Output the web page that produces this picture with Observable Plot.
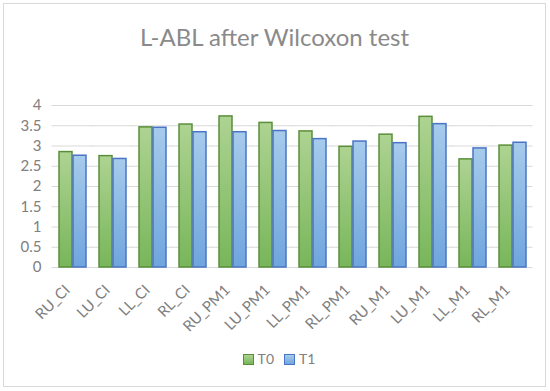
<!DOCTYPE html>
<html>
<head>
<meta charset="utf-8">
<script src="https://cdn.jsdelivr.net/npm/d3@7"></script>
<script src="https://cdn.jsdelivr.net/npm/@observablehq/plot@0.6"></script>
<style>
  html, body { margin: 0; padding: 0; background: #fff; }
  #wrap { position: relative; width: 550px; height: 391px; font-family: Lato, "Open Sans", sans-serif; }
  #frame { position: absolute; left: 3px; top: 3px; width: 543px; height: 384px; border: 1.5px solid #d9d9d9; box-sizing: border-box; }
  #title { position: absolute; left: 3px; width: 543px; top: 25px; text-align: center; font-size: 24px; line-height: 1; color: #8a8a8a; }
  #chart { position: absolute; left: 0; top: 0; }
  #legend { position: absolute; left: 4px; width: 550px; top: 352px; display: flex; justify-content: center; gap: 10px; font-size: 14px; color: #808080; line-height: 14px; }
  #legend .item { display: flex; align-items: center; gap: 4px; }
  #legend .sw { width: 9px; height: 9px; border: 1.5px solid; }
</style>
</head>
<body>
<div id="wrap">
  <div id="frame"></div>
  <div id="title">L-ABL after Wilcoxon test</div>
  <div id="chart"></div>
  <div id="legend"></div>
</div>
<script>
const categories = ["RU_CI","LU_CI","LL_CI","RL_CI","RU_PM1","LU_PM1","LL_PM1","RL_PM1","RU_M1","LU_M1","LL_M1","RL_M1"];
const seriesNames = ["T0","T1"];
const t0Values = [2.85,2.75,3.46,3.53,3.73,3.57,3.36,2.98,3.28,3.72,2.67,3.01];
const t1Values = [2.76,2.68,3.45,3.34,3.34,3.37,3.17,3.11,3.07,3.54,2.94,3.08];
const yTicks = [0,0.5,1,1.5,2,2.5,3,3.5,4];

const seriesStyle = {
  T0: {grad: "gT0", top: "#aed392", bottom: "#78b65a", stroke: "#5a8f3a"},
  T1: {grad: "gT1", top: "#a6cbec", bottom: "#6fa5de", stroke: "#4a74c6"}
};

const rows = [];
categories.forEach((c, i) => {
  rows.push({cat: c, series: "T0", value: t0Values[i]});
  rows.push({cat: c, series: "T1", value: t1Values[i]});
});

const barMarks = seriesNames.map(s => Plot.barY(rows.filter(d => d.series === s), {
  fx: "cat", x: "series", y: "value",
  fill: `url(#${seriesStyle[s].grad})`,
  stroke: seriesStyle[s].stroke, strokeWidth: 1.5
}));

const svg = Plot.plot({
  width: 550, height: 340,
  marginTop: 105, marginBottom: 73, marginLeft: 52, marginRight: 18,
  style: {fontFamily: "Lato, 'Open Sans', sans-serif", background: "transparent", color: "#808080"},
  fx: {domain: categories, paddingInner: 0.3, paddingOuter: 0.15, label: null},
  x: {domain: seriesNames, paddingInner: 0.08, paddingOuter: 0, axis: null},
  y: {domain: [0, 4], label: null},
  marks: [
    Plot.gridY(yTicks, {stroke: "#d9d9d9", strokeOpacity: 1, strokeWidth: 1.2, insetLeft: -6.5, insetRight: -6.5}),
    ...barMarks,
    Plot.axisY(yTicks, {tickSize: 0, tickPadding: 17, fontSize: 15, tickFormat: d => String(d), label: null, fill: "#808080"}),
    Plot.axisFx({anchor: "bottom", tickSize: 0, tickPadding: 20, tickRotate: -45, fontSize: 15, dx: -5, label: null, fill: "#808080"})
  ]
});

const defs = d3.select(svg).insert("defs", ":first-child");
seriesNames.forEach(s => {
  const st = seriesStyle[s];
  const g = defs.append("linearGradient").attr("id", st.grad).attr("x1", 0).attr("y1", 0).attr("x2", 0).attr("y2", 1);
  g.append("stop").attr("offset", "0%").attr("stop-color", st.top);
  g.append("stop").attr("offset", "100%").attr("stop-color", st.bottom);
});
document.getElementById("chart").appendChild(svg);

const legend = d3.select("#legend");
seriesNames.forEach(s => {
  const st = seriesStyle[s];
  const it = legend.append("div").attr("class", "item");
  it.append("div").attr("class", "sw")
    .style("border-color", st.stroke)
    .style("background", `linear-gradient(${st.top}, ${st.bottom})`);
  it.append("span").text(s);
});
</script>
</body>
</html>
